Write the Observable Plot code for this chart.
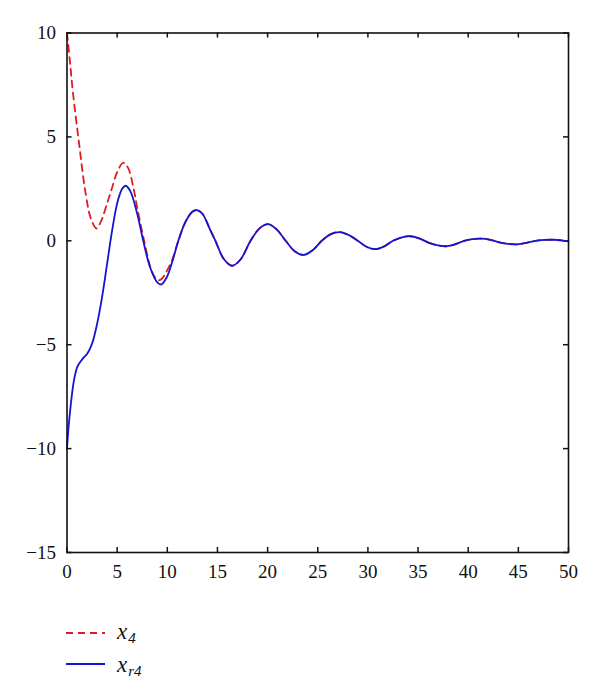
<!DOCTYPE html>
<html><head><meta charset="utf-8">
<script src="https://cdn.jsdelivr.net/npm/d3@7"></script>
<script src="https://cdn.jsdelivr.net/npm/@observablehq/plot@0.6"></script>
<style>
body{margin:0;background:#fff;}
#wrap{position:relative;width:600px;height:698px;background:#fff;}
</style></head><body>
<div id="wrap"><div id="chart"></div>
<svg style="position:absolute;left:0;top:0;pointer-events:none" width="600" height="698">
  <line x1="66" x2="105" y1="633" y2="633" stroke="#e31a1c" stroke-width="1.8" stroke-dasharray="7,5"/>
  <line x1="66" x2="105" y1="664" y2="664" stroke="#1414d2" stroke-width="1.8"/>
</svg>
<div class="legtxt" style="position:absolute;left:117px;top:620px;font-family:'Liberation Serif';font-style:italic;font-size:23px;line-height:23px;white-space:nowrap;color:#111">x<span style="font-size:15px;position:relative;top:4px;margin-left:1px">4</span></div>
<div class="legtxt" style="position:absolute;left:117px;top:653px;font-family:'Liberation Serif';font-style:italic;font-size:23px;line-height:23px;white-space:nowrap;color:#111">x<span style="font-size:15px;position:relative;top:4px;margin-left:1px">r4</span></div>
</div>
<script>
// Time values and series
const tRed = [0,0.3,0.6,1.2,1.85,2.4,2.95,3.4,4.0,4.4,5.0,5.6,6.1,6.6,7.0,7.6,8.3,8.7,9.05,9.4,9.9,10.5,11.1,11.8,12.5,12.95,13.5,14.3,14.8,15.6,16.45,17.3,18.3,19.2,20.05,20.9,21.8,22.7,23.6,24.5,25.4,26.3,27.2,28.2,29.0,29.9,30.8,31.7,32.5,33.4,34.2,35.1,36.1,37.0,37.9,38.8,39.6,40.4,41.3,42.2,43.1,44.0,44.9,45.8,46.7,47.6,48.5,49.3,50];
const x4 = [10,8.6,7.1,4.7,2.3,1.05,0.6,0.95,1.8,2.4,3.3,3.75,3.5,2.6,1.6,0.2,-1.25,-1.7,-1.9,-1.85,-1.5,-0.9,0.0,0.9,1.4,1.48,1.3,0.5,0.0,-0.85,-1.2,-0.9,0.0,0.6,0.8,0.55,0.0,-0.5,-0.68,-0.45,0.0,0.32,0.42,0.25,0.0,-0.3,-0.4,-0.25,0.0,0.17,0.22,0.12,-0.1,-0.22,-0.26,-0.15,0.0,0.08,0.1,0.05,-0.07,-0.15,-0.17,-0.1,0.0,0.04,0.05,0.02,-0.03];

const tBlue = [0,0.15,0.35,0.68,1.0,1.3,1.7,2.0,2.5,3.0,3.5,4.0,4.5,5.0,5.5,5.85,6.3,7.0,7.6,8.3,9.0,9.4,9.9,10.5,11.1,11.8,12.5,12.95,13.5,14.3,14.8,15.6,16.45,17.3,18.3,19.2,20.05,20.9,21.8,22.7,23.6,24.5,25.4,26.3,27.2,28.2,29.0,29.9,30.8,31.7,32.5,33.4,34.2,35.1,36.1,37.0,37.9,38.8,39.6,40.4,41.3,42.2,43.1,44.0,44.9,45.8,46.7,47.6,48.5,49.3,50];
const xr4 = [-10,-9.0,-8.0,-6.75,-6.1,-5.85,-5.6,-5.45,-4.95,-4.0,-2.7,-1.1,0.5,1.8,2.5,2.65,2.4,1.3,0.0,-1.3,-2.0,-2.1,-1.8,-1.0,0.0,0.9,1.4,1.48,1.3,0.5,0.0,-0.85,-1.2,-0.9,0.0,0.6,0.8,0.55,0.0,-0.5,-0.68,-0.45,0.0,0.32,0.42,0.25,0.0,-0.3,-0.4,-0.25,0.0,0.17,0.22,0.12,-0.1,-0.22,-0.26,-0.15,0.0,0.08,0.1,0.05,-0.07,-0.15,-0.17,-0.1,0.0,0.04,0.05,0.02,-0.03];

const xTicks = [0,5,10,15,20,25,30,35,40,45,50];
const yTicks = [-15,-10,-5,0,5,10];

const red = tRed.map((t,i)=>({t, v:x4[i]}));
const blue = tBlue.map((t,i)=>({t, v:xr4[i]}));

const W = 600, H = 590, mt = 32.5, mb = 38, ml = 66.5, mr = 32;
const ih = H - mt - mb, iw = W - ml - mr, tk = 5;
const FF = "Liberation Serif";

const chart = Plot.plot({
  width: W, height: H,
  marginTop: mt, marginBottom: mb, marginLeft: ml, marginRight: mr,
  style: {fontFamily: FF, fontSize: "19px", color: "#111", background: "#fff", overflow: "visible"},
  x: {domain: [0,50], label: null},
  y: {domain: [-15,10], label: null},
  marks: [
    Plot.axisX(xTicks, {tickSize: 0, tickPadding: 12, fontSize: 19, label: null, tickFormat: d => d}),
    Plot.axisY(yTicks, {tickSize: 0, tickPadding: 11, fontSize: 19, label: null}),
    Plot.tickX(xTicks, {x: d => d, insetTop: ih - tk, stroke: "#111", strokeWidth: 1.5}),
    Plot.tickX(xTicks, {x: d => d, insetBottom: ih - tk, stroke: "#111", strokeWidth: 1.5}),
    Plot.tickY(yTicks, {y: d => d, insetRight: iw - tk, stroke: "#111", strokeWidth: 1.5}),
    Plot.tickY(yTicks, {y: d => d, insetLeft: iw - tk, stroke: "#111", strokeWidth: 1.5}),
    Plot.line(red, {x: "t", y: "v", stroke: "#e31a1c", strokeWidth: 1.8, strokeDasharray: "7,5", curve: "catmull-rom"}),
    Plot.line(blue, {x: "t", y: "v", stroke: "#1414d2", strokeWidth: 1.8, curve: "catmull-rom"}),
    Plot.frame({stroke: "#111", strokeWidth: 1.6})
  ]
});
chart.querySelectorAll("text").forEach(t => {
  t.style.setProperty("font-family", "'Liberation Serif'", "important");
  t.style.setProperty("font-size", "19px", "important");
});
document.getElementById("chart").appendChild(chart);
</script>
</body></html>
